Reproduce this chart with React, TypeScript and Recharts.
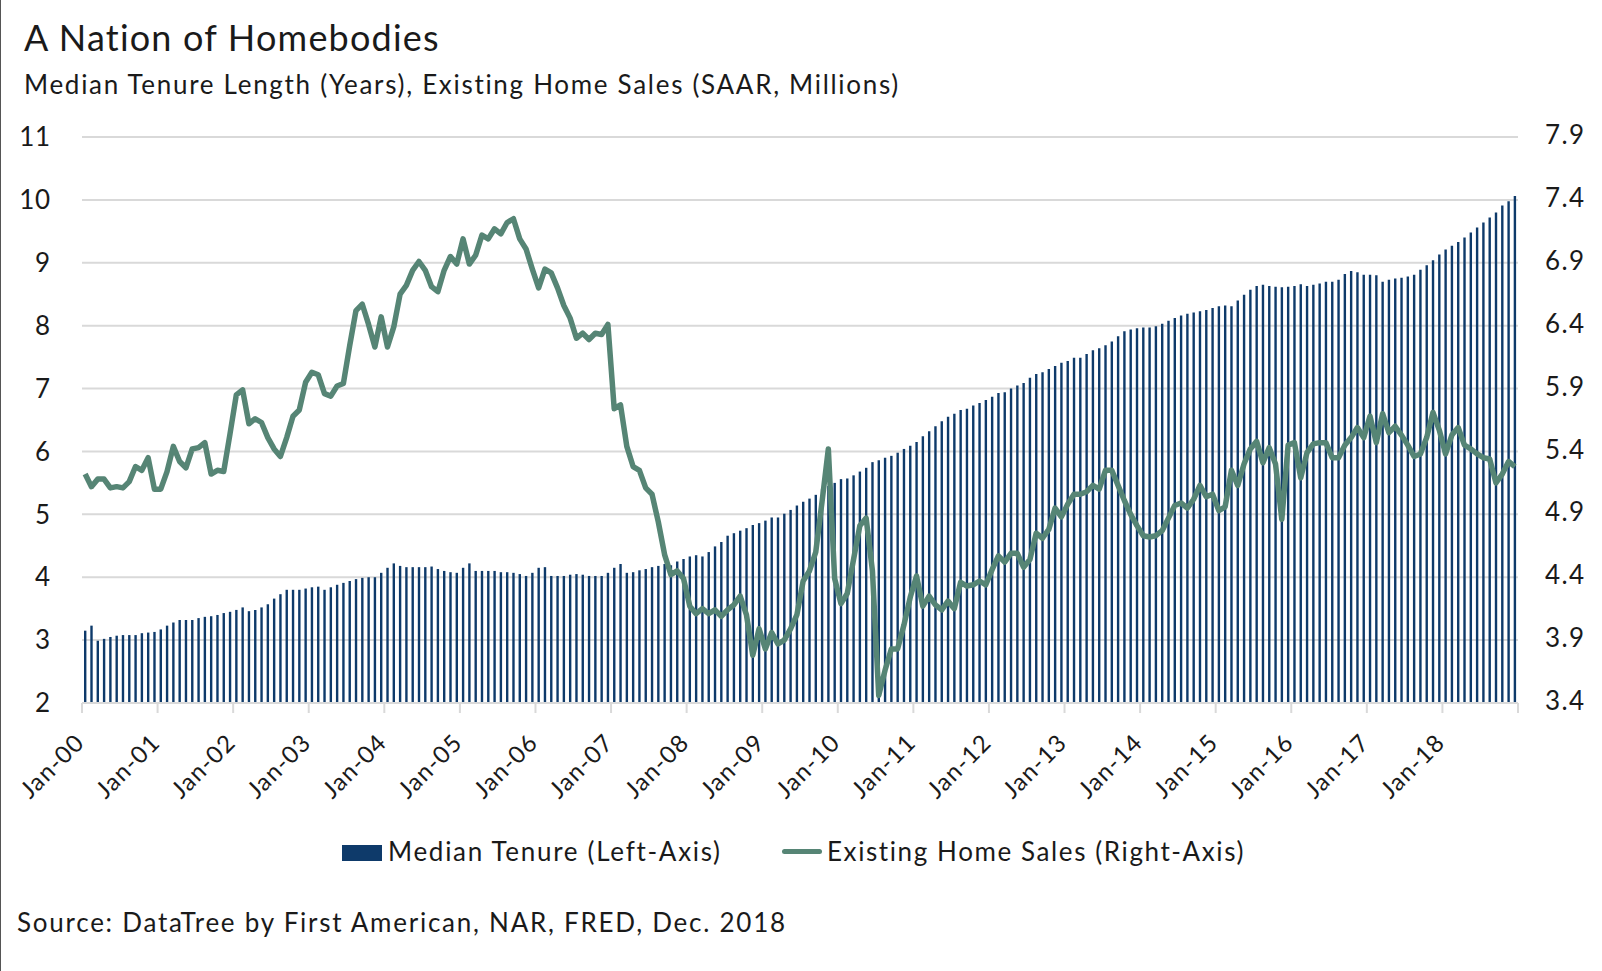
import React from "react";
import {
  ComposedChart,
  Bar,
  Line,
  XAxis,
  YAxis,
  CartesianGrid,
} from "recharts";

// Month / year labels for the category axis (Jan-00 .. Dec-18)
const months = ["Jan", "Feb", "Mar", "Apr", "May", "Jun", "Jul", "Aug", "Sep", "Oct", "Nov", "Dec"];
const years = ["00", "01", "02", "03", "04", "05", "06", "07", "08", "09", "10", "11", "12", "13", "14", "15", "16", "17", "18"];

// Median tenure length, years (left axis) - one row per year
const medianTenure = [
  3.15, 3.23, 2.99, 3.02, 3.05, 3.07, 3.08, 3.08, 3.08, 3.11, 3.12, 3.13,
  3.17, 3.23, 3.28, 3.32, 3.32, 3.32, 3.35, 3.37, 3.38, 3.40, 3.43, 3.45,
  3.48, 3.52, 3.46, 3.48, 3.52, 3.57, 3.66, 3.73, 3.80, 3.80, 3.80, 3.82,
  3.84, 3.85, 3.80, 3.84, 3.88, 3.91, 3.94, 3.97, 3.99, 4.00, 4.00, 4.07,
  4.15, 4.22, 4.18, 4.16, 4.16, 4.16, 4.16, 4.17, 4.13, 4.10, 4.08, 4.07,
  4.15, 4.22, 4.10, 4.10, 4.10, 4.10, 4.08, 4.08, 4.07, 4.05, 4.02, 4.07,
  4.15, 4.16, 4.02, 4.02, 4.02, 4.04, 4.05, 4.04, 4.02, 4.02, 4.02, 4.07,
  4.15, 4.21, 4.07, 4.08, 4.11, 4.13, 4.16, 4.18, 4.21, 4.19, 4.25, 4.29,
  4.33, 4.35, 4.33, 4.40, 4.49, 4.56, 4.66, 4.70, 4.74, 4.78, 4.83, 4.86,
  4.90, 4.95, 4.95, 5.01, 5.07, 5.14, 5.20, 5.25, 5.31, 5.40, 5.45, 5.50,
  5.56, 5.57, 5.62, 5.68, 5.74, 5.83, 5.86, 5.90, 5.93, 5.98, 6.04, 6.09,
  6.15, 6.24, 6.32, 6.40, 6.48, 6.55, 6.60, 6.66, 6.68, 6.73, 6.77, 6.82,
  6.87, 6.93, 6.94, 7.00, 7.05, 7.09, 7.17, 7.23, 7.26, 7.31, 7.36, 7.41,
  7.44, 7.49, 7.49, 7.55, 7.61, 7.64, 7.69, 7.75, 7.83, 7.91, 7.94, 7.96,
  7.97, 7.97, 7.99, 8.03, 8.08, 8.12, 8.16, 8.19, 8.21, 8.23, 8.25, 8.28,
  8.31, 8.32, 8.31, 8.40, 8.49, 8.57, 8.63, 8.65, 8.63, 8.62, 8.61, 8.62,
  8.63, 8.66, 8.63, 8.65, 8.67, 8.70, 8.70, 8.73, 8.82, 8.87, 8.85, 8.81,
  8.81, 8.80, 8.70, 8.73, 8.75, 8.76, 8.78, 8.81, 8.89, 8.96, 9.04, 9.13,
  9.21, 9.27, 9.33, 9.40, 9.48, 9.56, 9.64, 9.72, 9.80, 9.91, 9.98, 10.06,
];

// Existing home sales, SAAR millions (right axis)
const homeSales = [
  5.22, 5.12, 5.18, 5.18, 5.11, 5.12, 5.11, 5.16, 5.28, 5.25, 5.35, 5.10,
  5.10, 5.24, 5.44, 5.32, 5.27, 5.42, 5.43, 5.47, 5.22, 5.25, 5.24, 5.54,
  5.85, 5.89, 5.62, 5.66, 5.63, 5.51, 5.42, 5.36, 5.51, 5.68, 5.73, 5.95,
  6.03, 6.01, 5.86, 5.84, 5.92, 5.94, 6.24, 6.52, 6.57, 6.41, 6.23, 6.47,
  6.23, 6.39, 6.65, 6.72, 6.84, 6.91, 6.84, 6.71, 6.67, 6.84, 6.95, 6.89,
  7.09, 6.89, 6.96, 7.12, 7.09, 7.17, 7.13, 7.22, 7.25, 7.09, 7.01, 6.85,
  6.70, 6.85, 6.82, 6.70, 6.56, 6.46, 6.30, 6.34, 6.29, 6.34, 6.33, 6.41,
  5.74, 5.77, 5.44, 5.28, 5.25, 5.11, 5.06, 4.84, 4.58, 4.42, 4.45, 4.39,
  4.17, 4.11, 4.15, 4.11, 4.14, 4.09, 4.14, 4.18, 4.25, 4.10, 3.78, 3.99,
  3.83, 3.96, 3.87, 3.90, 3.99, 4.10, 4.37, 4.45, 4.60, 5.00, 5.42, 4.39,
  4.19, 4.27, 4.54, 4.81, 4.87, 4.45, 3.46, 3.66, 3.83, 3.83, 4.02, 4.24,
  4.41, 4.17, 4.25, 4.18, 4.14, 4.21, 4.15, 4.36, 4.33, 4.34, 4.37, 4.34,
  4.46, 4.57, 4.52, 4.59, 4.59, 4.48, 4.54, 4.75, 4.71, 4.78, 4.95, 4.88,
  4.98, 5.06, 5.06, 5.08, 5.13, 5.10, 5.25, 5.25, 5.13, 5.01, 4.90, 4.81,
  4.73, 4.72, 4.73, 4.77, 4.87, 4.97, 4.99, 4.95, 5.02, 5.13, 5.04, 5.06,
  4.93, 4.96, 5.25, 5.13, 5.30, 5.42, 5.48, 5.31, 5.43, 5.30, 4.86, 5.45,
  5.47, 5.19, 5.39, 5.46, 5.47, 5.47, 5.35, 5.35, 5.45, 5.51, 5.59, 5.51,
  5.68, 5.47, 5.70, 5.55, 5.60, 5.53, 5.45, 5.36, 5.38, 5.51, 5.71, 5.57,
  5.38, 5.53, 5.59, 5.45, 5.42, 5.38, 5.35, 5.34, 5.15, 5.22, 5.32, 5.28,
];

// Axis ticks
const leftTicks = [2, 3, 4, 5, 6, 7, 8, 9, 10, 11];
const rightTicks = [3.4, 3.9, 4.4, 4.9, 5.4, 5.9, 6.4, 6.9, 7.4, 7.9];

const categories = years.flatMap((y) => months.map((m) => `${m}-${y}`));
const lastCategory = categories[categories.length - 1];
// year ticks + closing tick at the end of the axis
const xTicks = [...categories.filter((c) => c.startsWith("Jan")), lastCategory];

const chartData = categories.map((month, i) => ({
  month,
  tenure: medianTenure[i],
  sales: homeSales[i],
}));

const FONT = "Lato, 'Noto Sans', sans-serif";
const TEXT = "#1a1a1a";
const GRID = "#d9d9d9";
const NAVY = "#0e3a6a";
const GREEN = "#568575";

// Excel-style tick: mark on the boundary between Dec and Jan, label rotated
const YearTick = (props: any) => {
  const { x, y, payload } = props;
  const half = payload?.offset || 3.15;
  const isLast = payload.value === lastCategory;
  const tx = isLast ? x + half : x - half;
  const ax = tx + 4;
  const ay = y + 41;
  return (
    <g>
      <line x1={tx} x2={tx} y1={y} y2={y + 10} stroke={GRID} strokeWidth={2} />
      {!isLast && (
        <text
          x={ax}
          y={ay}
          textAnchor="end"
          fontSize={24}
          letterSpacing={1.2}
          fontFamily={FONT}
          fill={TEXT}
          transform={`rotate(-45, ${ax}, ${ay})`}
        >
          {payload.value}
        </text>
      )}
    </g>
  );
};

// right-axis labels, left aligned ~28px right of the plot edge
const RightTick = (props: any) => {
  const { x, y, payload } = props;
  return (
    <text
      x={x + 27}
      y={y - 2}
      dy="0.35em"
      textAnchor="start"
      fontSize={26}
      letterSpacing={1.4}
      fontFamily={FONT}
      fill={TEXT}
    >
      {payload.value}
    </text>
  );
};

const App = () => {
  return (
    <div
      style={{
        position: "relative",
        width: 1602,
        height: 971,
        background: "#fff",
        fontFamily: FONT,
        color: TEXT,
        overflow: "hidden",
      }}
    >
      <style>{`body { margin: 0; }`}</style>
      {/* thin frame on the left edge */}
      <div style={{ position: "absolute", left: 0, top: 0, width: 1, height: 971, background: "#555" }} />

      {/* Title + subtitle */}
      <div style={{ position: "absolute", left: 24, top: 19, fontSize: 36, lineHeight: 1, letterSpacing: 1.2 }}>
        A Nation of Homebodies
      </div>
      <div style={{ position: "absolute", left: 24, top: 71, fontSize: 26, lineHeight: 1, letterSpacing: 1.7 }}>
        Median Tenure Length (Years), Existing Home Sales (SAAR, Millions)
      </div>

      <div style={{ position: "absolute", left: 0, top: 0 }}>
        <ComposedChart
          width={1602}
          height={831}
          data={chartData}
          margin={{ top: 137, right: 0, bottom: 30, left: 0 }}
          barCategoryGap={0}
        >
          <CartesianGrid
            yAxisId="left"
            vertical={false}
            stroke={GRID}
            strokeWidth={2}
          />
          <XAxis
            dataKey="month"
            ticks={xTicks}
            interval={0}
            height={98}
            tickLine={false}
            tickSize={0}
            tickMargin={0}
            axisLine={{ stroke: GRID, strokeWidth: 2 }}
            tick={<YearTick />}
          />
          <YAxis
            yAxisId="left"
            orientation="left"
            type="number"
            domain={[2, 11]}
            ticks={leftTicks}
            width={82}
            axisLine={false}
            tickLine={false}
            tickSize={0}
            tickMargin={31}
            tick={{ fontSize: 26, fill: TEXT, fontFamily: FONT, letterSpacing: 0.8 }}
          />
          <YAxis
            yAxisId="right"
            orientation="right"
            type="number"
            domain={[3.4, 7.9]}
            ticks={rightTicks}
            width={84}
            axisLine={false}
            tickLine={false}
            tickSize={0}
            tickMargin={0}
            tick={<RightTick />}
          />
          <Bar
            yAxisId="left"
            dataKey="tenure"
            fill={NAVY}
            barSize={2.4}
            isAnimationActive={false}
          />
          <Line
            yAxisId="right"
            type="linear"
            dataKey="sales"
            stroke={GREEN}
            strokeWidth={5.5}
            strokeLinejoin="round"
            dot={false}
            activeDot={false}
            isAnimationActive={false}
          />
        </ComposedChart>
      </div>

      {/* Legend */}
      <div style={{ position: "absolute", left: 342, top: 845, width: 40, height: 16, background: NAVY }} />
      <div style={{ position: "absolute", left: 388, top: 838, fontSize: 26, lineHeight: 1, letterSpacing: 1.7 }}>
        Median Tenure (Left-Axis)
      </div>
      <div
        style={{
          position: "absolute",
          left: 782,
          top: 849,
          width: 40,
          height: 5,
          borderRadius: 3,
          background: GREEN,
        }}
      />
      <div style={{ position: "absolute", left: 827, top: 838, fontSize: 26, lineHeight: 1, letterSpacing: 1.6 }}>
        Existing Home Sales (Right-Axis)
      </div>

      {/* Source */}
      <div style={{ position: "absolute", left: 17, top: 909, fontSize: 26, lineHeight: 1, letterSpacing: 1.75 }}>
        Source: DataTree by First American, NAR, FRED, Dec. 2018
      </div>
    </div>
  );
};

export default App;
